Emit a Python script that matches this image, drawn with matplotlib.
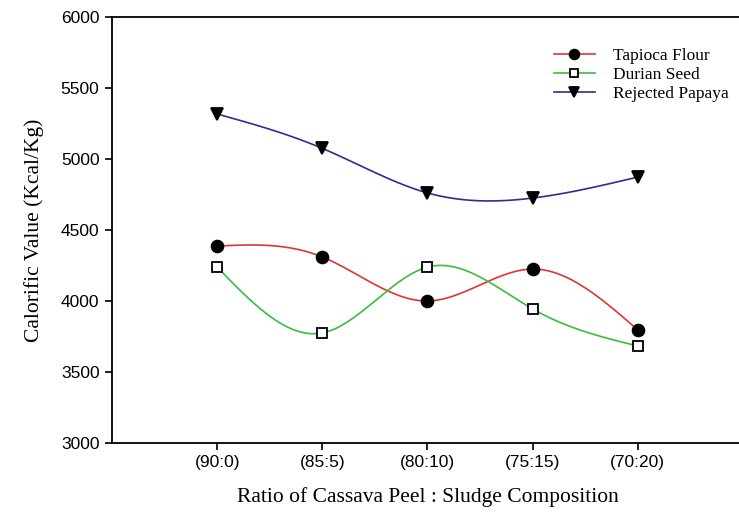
import numpy as np
import matplotlib
matplotlib.use('Agg')
import matplotlib.pyplot as plt

# ratios of cassava peel : sludge
ratios = ['(90:0)', '(85:5)', '(80:10)', '(75:15)', '(70:20)']
tapioca = [4387, 4310, 4000, 4225, 3796]
durian = [4239, 3775, 4239, 3944, 3683]
papaya = [5317, 5075, 4761, 4725, 4873]


def natural_spline(x, y, n=200):
    # natural cubic spline, drawn as the smooth connecting line
    x = np.asarray(x, float); y = np.asarray(y, float)
    k = len(x)
    h = np.diff(x)
    A = np.zeros((k, k)); b = np.zeros(k)
    A[0, 0] = A[-1, -1] = 1
    for i in range(1, k - 1):
        A[i, i - 1] = h[i - 1]
        A[i, i] = 2 * (h[i - 1] + h[i])
        A[i, i + 1] = h[i]
        b[i] = 3 * ((y[i + 1] - y[i]) / h[i] - (y[i] - y[i - 1]) / h[i - 1])
    c = np.linalg.solve(A, b)
    xs = np.linspace(x[0], x[-1], n)
    ys = np.empty_like(xs)
    for j, xv in enumerate(xs):
        i = min(np.searchsorted(x, xv, side='right') - 1, k - 2)
        dx = xv - x[i]
        bi = (y[i + 1] - y[i]) / h[i] - h[i] * (2 * c[i] + c[i + 1]) / 3
        di = (c[i + 1] - c[i]) / (3 * h[i])
        ys[j] = y[i] + bi * dx + c[i] * dx ** 2 + di * dx ** 3
    return xs, ys


fig = plt.figure(figsize=(7.39, 5.16), dpi=100)
ax = fig.add_axes([112 / 739, 73 / 516, 631 / 739, 426 / 516])

pos = np.arange(1, len(ratios) + 1)
series = [
    ('Tapioca Flour', tapioca, '#E03535', 'o', 'black', 8.5),
    ('Durian Seed', durian, '#3DBB3D', 's', 'white', 7.5),
    ('Rejected Papaya', papaya, '#2E2E8E', 'v', 'black', 8.5),
]
for label, vals, col, mk, fc, ms in series:
    xs, ys = natural_spline(pos, vals)
    ax.plot(xs, ys, color=col, lw=1.2, zorder=2)
    ax.plot(pos, vals, ls='none', marker=mk, ms=ms, mfc=fc, mec='black',
            mew=1.3, zorder=3)
    ax.plot([], [], color=col, lw=1.2, marker=mk, ms=ms - 1.5, mfc=fc,
            mec='black', mew=1.3, label=label)

ax.set_xlim(0, 6)
ax.set_ylim(3000, 6000)
ax.set_xticks(pos)
ax.set_xticklabels(ratios)
ax.set_yticks(range(3000, 6001, 500))
for lab in ax.get_xticklabels() + ax.get_yticklabels():
    lab.set_fontfamily('Liberation Sans')
    lab.set_fontsize(12.5)
ax.tick_params(direction='out', length=5, width=1.2, pad=4)
ax.spines['right'].set_visible(False)
for s in ['left', 'top', 'bottom']:
    ax.spines[s].set_linewidth(1.3)

ax.set_xlabel('Ratio of Cassava Peel : Sludge Composition',
              fontfamily='Liberation Serif', fontsize=15.5, labelpad=12)
ax.set_ylabel('Calorific Value (Kcal/Kg)',
              fontfamily='Liberation Serif', fontsize=15.5, labelpad=12)

ax.legend(loc='upper left', bbox_to_anchor=(0.675, 0.965), frameon=False,
          prop={'family': 'Liberation Serif', 'size': 12.5},
          handlelength=2.4, handletextpad=1.0, labelspacing=0.18)

fig.savefig('out.png', dpi=100)
